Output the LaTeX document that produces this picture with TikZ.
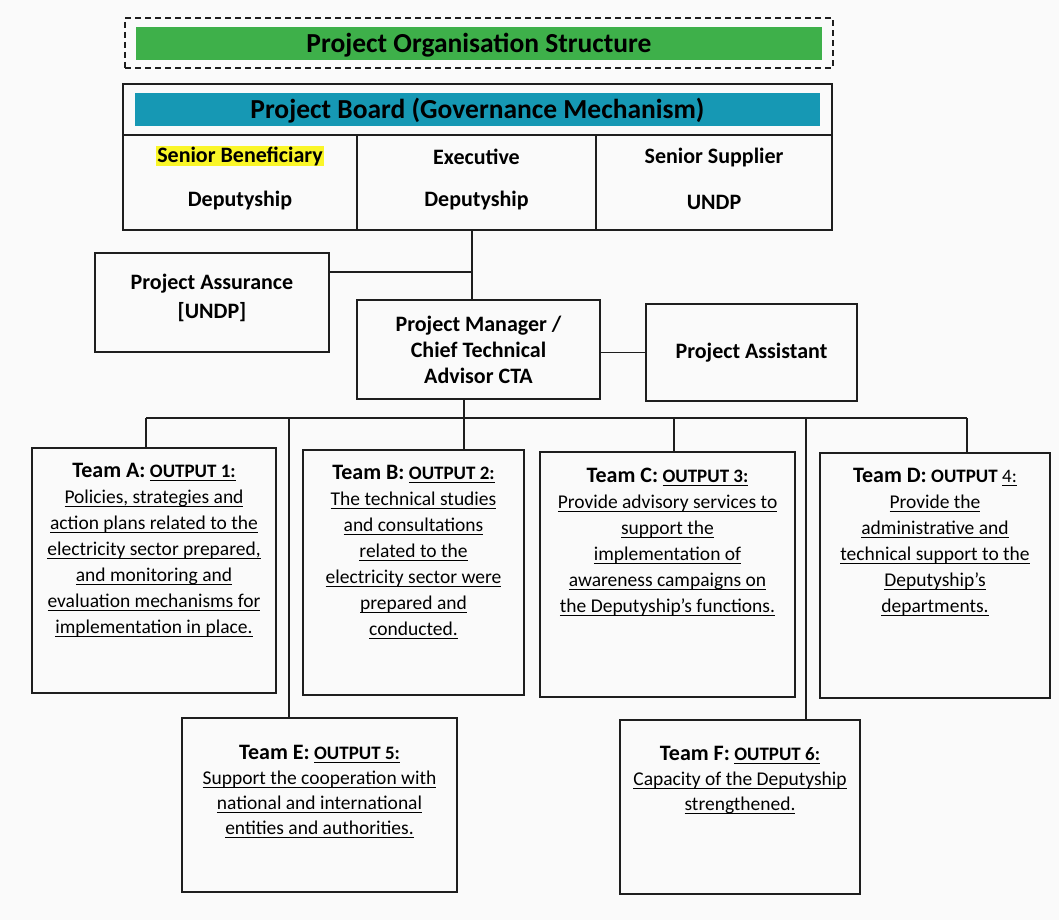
\documentclass[tikz,border=0pt]{standalone}
\usepackage{fontspec}
\setmainfont{Carlito}
\newsavebox{\ulbox}
\newcommand{\uline}[1]{\leavevmode\sbox{\ulbox}{#1}\rlap{\rule[-3.4pt]{\wd\ulbox}{1.1pt}}\usebox{\ulbox}}
\definecolor{bggray}{RGB}{250,250,250}
\definecolor{titlegreen}{RGB}{62,176,74}
\definecolor{boardteal}{RGB}{22,152,180}
\definecolor{hlyellow}{RGB}{250,246,40}
\definecolor{inkline}{RGB}{30,30,30}
\newcommand{\ttl}[2]{{\fontsize{22}{26}\selectfont\bfseries #1} {\fontsize{19}{26}\selectfont\bfseries\uline{#2}}}
\begin{document}
\begin{tikzpicture}[x=1pt,y=-1pt,
  box/.style={draw=inkline,line width=1.6pt,rectangle,inner sep=0pt},
  bar/.style={rectangle,inner sep=0pt,draw=none},
  lbl/.style={inner sep=0pt,align=center,font=\fontsize{22}{26}\selectfont\bfseries},
  bigtitle/.style={inner sep=0pt,font=\fontsize{27.5}{30}\selectfont\bfseries},
  teamtxt/.style={inner sep=0pt,align=center,anchor=north,font=\fontsize{19.5}{26}\selectfont},
  link/.style={draw=inkline,line width=1.4pt}]
\fill[bggray] (0,0) rectangle (1059,920);
\useasboundingbox (0,0) rectangle (1059,920);

% title
\node[box,dash pattern=on 6pt off 4pt,line width=1.5pt,minimum width=708pt,minimum height=50pt] (titleframe) at (479,43) {};
\node[bar,fill=titlegreen,minimum width=686pt,minimum height=33pt] (titlebar) at (479,43.5) {};
\node[bigtitle] (title) at (479,45) {Project Organisation Structure};

% board
\node[box,line width=1.8pt,minimum width=709pt,minimum height=146pt] (board) at (477.5,157) {};
\node[bar,fill=boardteal,minimum width=685pt,minimum height=33pt] (boardbar) at (477.5,109.5) {};
\node[bigtitle] (boardtitle) at (477.5,111) {Project Board (Governance Mechanism)};
\node[box,minimum width=234pt,minimum height=95pt] (c1) at (240,182.5) {};
\node[box,minimum width=239pt,minimum height=95pt] (c2) at (476.5,182.5) {};
\node[box,minimum width=236pt,minimum height=95pt] (c3) at (714,182.5) {};
\node[lbl] (c1a) at (240,156) {\setlength{\fboxsep}{1pt}\colorbox{hlyellow}{Senior Beneficiary}};
\node[lbl] (c1b) at (240,201) {Deputyship};
\node[lbl] (c2a) at (476.5,157) {Executive};
\node[lbl] (c2b) at (476.5,201) {Deputyship};
\node[lbl] (c3a) at (714,158) {Senior Supplier};
\node[lbl] (c3b) at (714,202) {UNDP};

% management level
\node[box,minimum width=234pt,minimum height=99pt] (pas) at (212,302.5) {};
\node[lbl,font=\fontsize{22}{29}\selectfont\bfseries] (pastxt) at (212,298) {Project Assurance\\{[UNDP]}};
\node[box,lbl,minimum width=243pt,minimum height=99pt] (pm) at (478.5,349.5) {Project Manager /\\Chief Technical\\Advisor CTA};
\node[box,lbl,minimum width=211pt,minimum height=97pt] (pa) at (751.5,352.5) {Project Assistant};

\coordinate (j1) at (472,272);
\draw[link] (c2.south -| j1) -- (pm.north -| j1);
\draw[link] (pas.east |- j1) -- (j1);
\draw[link] (pm.east |- pa.west) -- (pa.west);

% teams
\node[box,minimum width=244pt,minimum height=245pt] (tmA) at (154,570.5) {};
\node[box,minimum width=221pt,minimum height=245pt] (tmB) at (413.5,572.5) {};
\node[box,minimum width=255pt,minimum height=245pt] (tmC) at (667.5,574.5) {};
\node[box,minimum width=230pt,minimum height=245pt] (tmD) at (935,575.5) {};
\node[box,minimum width=275pt,minimum height=174pt] (tmE) at (319.5,805) {};
\node[box,minimum width=240pt,minimum height=174pt] (tmF) at (740,807) {};

\node[teamtxt] (txA) at (154,463) {\ttl{Team A:}{OUTPUT 1:}\\\uline{Policies, strategies and}\\\uline{action plans related to the}\\\uline{electricity sector prepared,}\\\uline{and monitoring and}\\\uline{evaluation mechanisms for}\\\uline{implementation in place.}};
\node[teamtxt] (txB) at (413.5,465) {\ttl{Team B:}{OUTPUT 2:}\\\uline{The technical studies}\\\uline{and consultations}\\\uline{related to the}\\\uline{electricity sector were}\\\uline{prepared and}\\\uline{conducted.}};
\node[teamtxt] (txC) at (667.5,468) {\ttl{Team C:}{OUTPUT 3:}\\\uline{Provide advisory services to}\\\uline{support the}\\\uline{implementation of}\\\uline{awareness campaigns on}\\\uline{the Deputyship’s functions.}};
\node[teamtxt] (txD) at (935,468) {{\fontsize{22}{26}\selectfont\bfseries Team D:} {\fontsize{19}{26}\selectfont\bfseries OUTPUT} {\fontsize{19}{26}\selectfont\uline{4:}}\\\uline{Provide the}\\\uline{administrative and}\\\uline{technical support to the}\\\uline{Deputyship’s}\\\uline{departments.}};
\node[teamtxt,font=\fontsize{19.5}{25}\selectfont] (txE) at (319.5,745) {\ttl{Team E:}{OUTPUT 5:}\\\uline{Support the cooperation with}\\\uline{national and international}\\\uline{entities and authorities.}};
\node[teamtxt,font=\fontsize{19.5}{25}\selectfont] (txF) at (740,746) {\ttl{Team F:}{OUTPUT 6:}\\\uline{Capacity of the Deputyship}\\\uline{strengthened.}};

% bus
\coordinate (bus) at (464,418);
\coordinate (dA) at (146,418);
\coordinate (dE) at (289,418);
\coordinate (dC) at (674,418);
\coordinate (dF) at (806,418);
\coordinate (dD) at (967,418);
\draw[link] (pm.south -| bus) -- (bus |- tmB.north);
\draw[link] (dA) -- (dD);
\draw[link] (dA) -- (dA |- tmA.north);
\draw[link] (dE) -- (dE |- tmE.north);
\draw[link] (dC) -- (dC |- tmC.north);
\draw[link] (dF) -- (dF |- tmF.north);
\draw[link] (dD) -- (dD |- tmD.north);
\end{tikzpicture}
\end{document}
